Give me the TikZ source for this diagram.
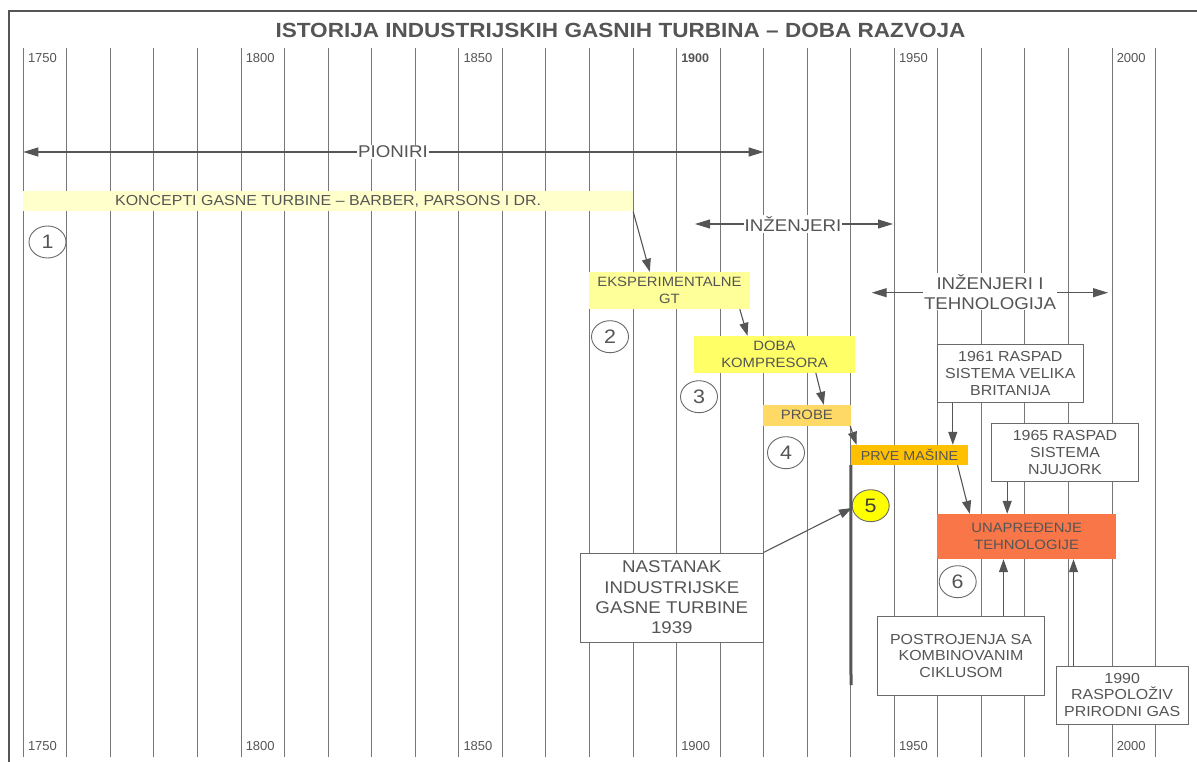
\documentclass[tikz,border=0pt]{standalone}
\usepackage{fontspec}
\setmainfont{Liberation Sans}[FakeStretch=1.1]
\newfontfamily\yearfont{Liberation Sans}
\usetikzlibrary{arrows.meta,shapes.geometric,calc}
\newcommand\myfs[2]{\fontsize{#1}{#2}\selectfont}
\definecolor{txt}{HTML}{555555}
\definecolor{gridc}{HTML}{767676}
\definecolor{linec}{HTML}{555555}
\definecolor{boxc}{HTML}{6A6A6A}
\definecolor{ckonc}{HTML}{FFFFCC}
\definecolor{ceksp}{HTML}{FFFF99}
\definecolor{cdoba}{HTML}{FFFF66}
\definecolor{cprobe}{HTML}{FFD966}
\definecolor{cprve}{HTML}{FFC000}
\definecolor{cunap}{HTML}{F87648}
\definecolor{cfive}{HTML}{FFFF00}
\tikzset{
  gridline/.style={draw=gridc, line width=1pt},
  frameline/.style={draw=linec, line width=2pt},
  wbox/.style={draw=boxc, line width=1pt, fill=white, align=center, inner sep=0pt, text=txt},
  cbox/.style={align=center, inner sep=0pt, text=txt},
  num/.style={ellipse, draw=boxc, line width=0.9pt, fill=white, minimum width=37pt, minimum height=32pt, inner sep=0pt, text=txt, font=\myfs{19.5}{22}},
  arr/.style={draw=linec, line width=1.1pt, -{Triangle[length=13pt,width=9pt]}},
  darr/.style={draw=linec, line width=1.1pt, {Triangle[length=15pt,width=9pt]}-{Triangle[length=15pt,width=9pt]}},
  lbl/.style={fill=white, inner sep=1pt, align=center, text=txt, font=\myfs{17}{20}},
  yr/.style={anchor=west, inner sep=0pt, text=txt, font=\yearfont\myfs{13}{14}},
  boxfont/.style={font=\myfs{13.5}{16.7}},
  bigfont/.style={font=\myfs{14.5}{16.7}}
}
\begin{document}
\begin{tikzpicture}[x=1pt,y=-1pt]
\useasboundingbox (0,0) rectangle (1197,762);
% frame
\draw[frameline] (1197,11) -- (9,11) -- (9,762);
% title
\node[text=txt, font=\bfseries\myfs{20.5}{24}] (title) at (620.5,30) {ISTORIJA INDUSTRIJSKIH GASNIH TURBINA -- DOBA RAZVOJA};
% grid
\foreach \i in {0,...,26} {
  \draw[gridline] ({23.3+43.55*\i},48) -- ({23.3+43.55*\i},757);
}
\foreach \i/\y in {0/1750,5/1800,10/1850,20/1950,25/2000} {
  \node[yr] (yt\y) at ({27.8+43.55*\i},58) {\y};
  \node[yr] (yb\y) at ({27.8+43.55*\i},746) {\y};
}
\node[yr, font=\yearfont\bfseries\myfs{12.5}{14}] (yt1900) at ({27.8+43.55*15},58) {1900};
\node[yr] (yb1900) at ({27.8+43.55*15},746) {1900};

% era arrows
\coordinate (pa) at (23.3,152);
\coordinate (pb) at (763.7,152);
\draw[darr] (pa) -- (pb);
\node[lbl] (pion) at (393,152) {PIONIRI};

\coordinate (ia) at (695,224);
\coordinate (ib) at (893,224);
\draw[darr] (ia) -- (ib);
\node[lbl] (inz) at (793,224) {INŽENJERI};

\coordinate (ta) at (871.7,292.7);
\coordinate (tb) at (1108,292.7);
\draw[darr] (ta) -- (tb);
\node[lbl] (inzt) at (990,291.7) {INŽENJERI I\\TEHNOLOGIJA};

% colored stages
\node[cbox, fill=ckonc, minimum width=609.7pt, minimum height=20.5pt, font=\myfs{14.5}{16}] (konc) at (328.15,201.25) {KONCEPTI GASNE TURBINE -- BARBER, PARSONS I DR.};
\node[cbox, fill=ceksp, minimum width=161pt, minimum height=37pt, boxfont] (eksp) at (669.5,290.5) {EKSPERIMENTALNE\\GT};
\node[cbox, fill=cdoba, minimum width=161pt, minimum height=36.7pt, boxfont] (doba) at (774.5,354.35) {DOBA\\KOMPRESORA};
\node[cbox, fill=cprobe, minimum width=88.3pt, minimum height=20.7pt, boxfont] (probe) at (806.85,415.35) {PROBE};
\node[cbox, fill=cprve, minimum width=117pt, minimum height=20pt, font=\myfs{13}{16}] (prve) at (909.5,455) {PRVE MAŠINE};
\node[cbox, fill=cunap, minimum width=178.7pt, minimum height=45pt, boxfont] (unap) at (1026.65,536.5) {UNAPREĐENJE\\TEHNOLOGIJE};

% white boxes
\node[wbox, minimum width=182.3pt, minimum height=89pt, font=\myfs{17}{20.3}] (nast) at (671.85,597.5) {NASTANAK\\INDUSTRIJSKE\\GASNE TURBINE\\1939};
\node[wbox, minimum width=146pt, minimum height=58pt, bigfont] (r61) at (1010.3,373.7) {1961 RASPAD\\SISTEMA VELIKA\\BRITANIJA};
\node[wbox, minimum width=146.6pt, minimum height=58.4pt, bigfont] (r65) at (1065,452.5) {1965 RASPAD\\SISTEMA\\NJUJORK};
\node[wbox, minimum width=166.6pt, minimum height=78.3pt, bigfont] (postr) at (961,655.85) {POSTROJENJA SA\\KOMBINOVANIM\\CIKLUSOM};
\node[wbox, minimum width=132.3pt, minimum height=58pt, bigfont] (r90) at (1122.15,695) {1990\\RASPOLOŽIV\\PRIRODNI GAS};

% numbered circles
\node[num] (c1) at (47.5,242) {1};
\node[num] (c2) at (610,336.7) {2};
\node[num] (c3) at (699,396.7) {3};
\node[num] (c4) at (786,452.7) {4};
\node[num, fill=cfive, text=black!75] (c5) at (870.7,505.7) {5};
\node[num] (c6) at (957.7,581.7) {6};

% thick line 1939
\coordinate (thkend) at (851,685);
\draw[draw=linec, line width=3pt] (prve.south west) -- (thkend);
\coordinate (thk) at (852,508);

% connectors
\draw[arr] (konc.south east) -- ($(eksp.north west)+(61,0)$);
\draw[arr] ($(eksp.south west)+(151,0)$) -- ($(doba.north west)+(53.7,0)$);
\draw[arr] ($(doba.south west)+(122,0)$) -- ($(probe.north west)+(61.3,0)$);
\draw[arr] ($(probe.south east)+(-1,0)$) -- ($(prve.north west)+(5.7,0)$);
\draw[arr] (nast.north east) -- (thk);
\draw[arr] ($(r61.south west)+(16,0)$) coordinate (a61) -- (a61 |- prve.north);
\draw[arr] ($(r65.south west)+(16,0)$) coordinate (a65) -- (a65 |- unap.north);
\draw[arr] ($(prve.south west)+(106.7,0)$) -- ($(unap.north west)+(32.7,0)$);
\draw[arr] ($(postr.north west)+(126.3,0)$) coordinate (apo) -- (apo |- unap.south);
\draw[arr] ($(r90.north west)+(18,0)$) coordinate (a90) -- (a90 |- unap.south);
\end{tikzpicture}
\end{document}
